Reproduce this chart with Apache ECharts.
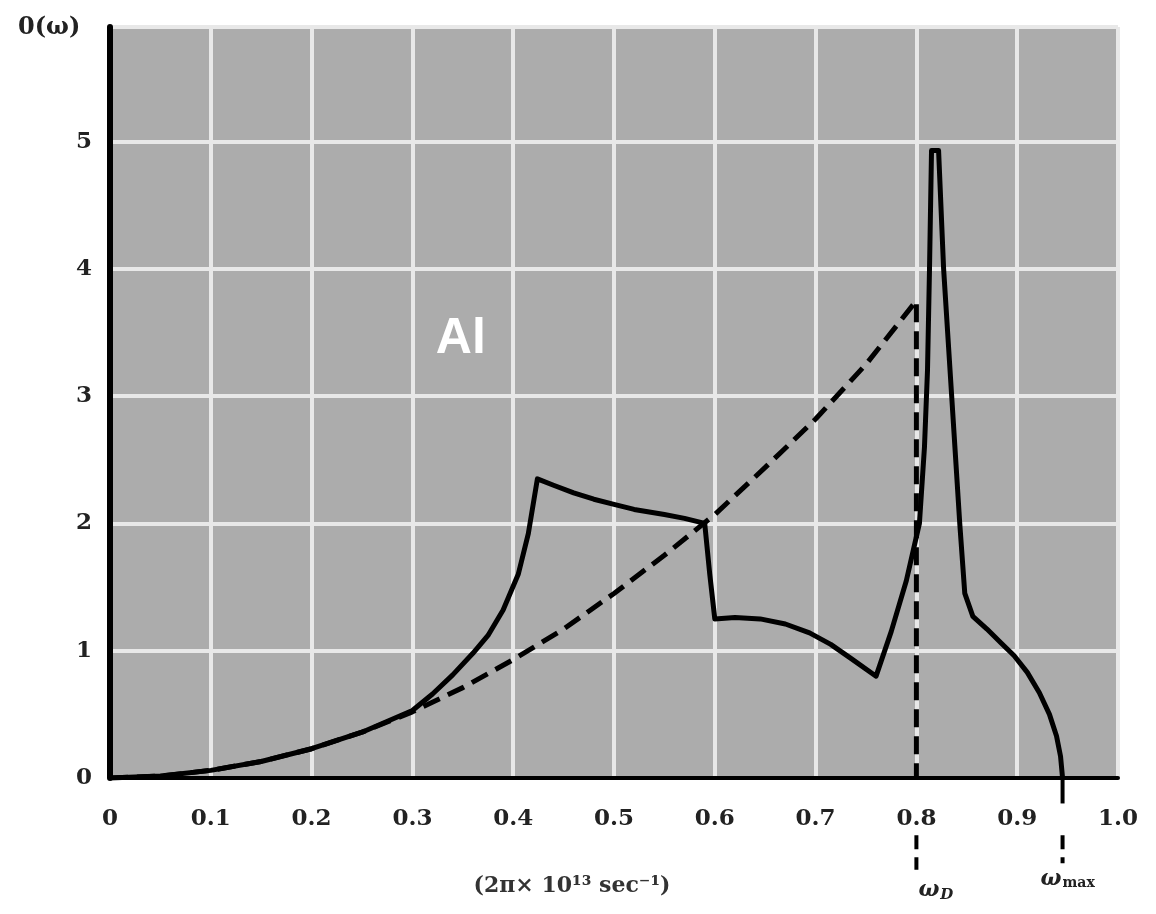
<!DOCTYPE html>
<html>
<head>
<meta charset="utf-8">
<script src="https://cdn.jsdelivr.net/npm/echarts@6/dist/echarts.min.js"></script>
<style>
  html, body { margin: 0; padding: 0; background: #fff; }
  #main { width: 1156px; height: 914px; }
</style>
</head>
<body>
<div id="main"></div>
<script>
// 读图得到的数据 (ω 单位: 2π×10^13 sec^-1)
const xTicks = ['0', '0.1', '0.2', '0.3', '0.4', '0.5', '0.6', '0.7', '0.8', '0.9', '1.0'];
const yTicks = ['0', '1', '2', '3', '4', '5'];

// 实线: Al 的频谱
const solidW = [0, 0.05, 0.1, 0.15, 0.2, 0.25, 0.3, 0.32, 0.34, 0.36, 0.375, 0.39, 0.405, 0.415, 0.424,
  0.44, 0.46, 0.48, 0.5, 0.52, 0.55, 0.57, 0.59, 0.595, 0.6,
  0.62, 0.645, 0.67, 0.694, 0.715, 0.735, 0.76,
  0.775, 0.79, 0.803, 0.808, 0.811, 0.813, 0.815, 0.822, 0.827, 0.835, 0.843, 0.848,
  0.856, 0.87, 0.884, 0.897, 0.91, 0.922, 0.932, 0.939, 0.943, 0.945];
const solidG = [0, 0.015, 0.06, 0.13, 0.23, 0.36, 0.53, 0.66, 0.81, 0.98, 1.12, 1.32, 1.6, 1.92, 2.35,
  2.3, 2.24, 2.19, 2.15, 2.11, 2.07, 2.04, 2.0, 1.6, 1.25,
  1.26, 1.25, 1.21, 1.14, 1.05, 0.94, 0.8,
  1.15, 1.55, 2.0, 2.6, 3.2, 4.0, 4.93, 4.93, 4.0, 3.0, 2.0, 1.45,
  1.27, 1.17, 1.06, 0.96, 0.83, 0.67, 0.5, 0.33, 0.17, 0];

// 虚线: Debye 近似
const dashW = [0, 0.05, 0.1, 0.15, 0.2, 0.25, 0.3, 0.35, 0.4, 0.45, 0.5, 0.55, 0.6, 0.65, 0.7, 0.75, 0.8, 0.8];
const dashG = [0, 0.015, 0.06, 0.13, 0.23, 0.36, 0.52, 0.71, 0.93, 1.17, 1.45, 1.75, 2.07, 2.44, 2.82, 3.25, 3.75, 0];

// 轴下方的 ω_D / ω_max 引线
const omegaD = 0.8;
const omegaMax = 0.945;

const font = 'DejaVu Serif';
const zip = (a, b) => a.map((v, i) => [v, b[i]]);

const chart = echarts.init(document.getElementById('main'));
const dashStyle = { color: '#000', width: 5, type: [18, 9] };

chart.setOption({
  animation: false,
  grid: {
    left: 110, right: 38, top: 27, bottom: 136,
    show: true, backgroundColor: '#acacac', borderWidth: 0
  },
  xAxis: {
    type: 'value', min: 0, max: 1, interval: 0.1,
    axisLine: { show: true, lineStyle: { color: '#000', width: 4 } },
    axisTick: { show: false },
    splitLine: { show: true, lineStyle: { color: '#e8e8e8', width: 4 } },
    axisLabel: {
      margin: 30,
      formatter: (v) => xTicks[Math.round(v * 10)],
      fontFamily: font, fontWeight: 'bold', fontSize: 23, color: '#222'
    }
  },
  yAxis: {
    type: 'value', min: 0, max: 5.9, interval: 1,
    axisLine: { show: true, lineStyle: { color: '#000', width: 6 } },
    axisTick: { show: false },
    splitLine: { show: true, lineStyle: { color: '#e8e8e8', width: 4 } },
    axisLabel: {
      margin: 18,
      formatter: (v) => yTicks[Math.round(v)] || '',
      fontFamily: font, fontWeight: 'bold', fontSize: 23, color: '#222'
    }
  },
  series: [
    {
      name: 'solid', type: 'line', data: zip(solidW, solidG),
      showSymbol: false, lineStyle: { color: '#000', width: 5, join: 'round' }, z: 5
    },
    {
      name: 'debye', type: 'line', data: zip(dashW, dashG),
      showSymbol: false, lineStyle: dashStyle, z: 4
    },
    {
      name: 'wD', type: 'line', clip: false, data: [[omegaD, -0.45], [omegaD, -0.72]],
      showSymbol: false, lineStyle: { color: '#000', width: 4, type: [14, 8] }
    },
    {
      name: 'wMax1', type: 'line', clip: false, data: [[omegaMax, 0], [omegaMax, -0.2]],
      showSymbol: false, lineStyle: { color: '#000', width: 4 }
    },
    {
      name: 'wMax2', type: 'line', clip: false, data: [[omegaMax, -0.45], [omegaMax, -0.67]],
      showSymbol: false, lineStyle: { color: '#000', width: 4, type: [14, 8] }
    }
  ]
});

// 文字标注, 位置由坐标轴换算
const pAl = chart.convertToPixel({ gridIndex: 0 }, [0.348, 3.45]);
const pD = chart.convertToPixel({ gridIndex: 0 }, [omegaD, -0.72]);
const pM = chart.convertToPixel({ gridIndex: 0 }, [omegaMax, -0.67]);

chart.setOption({
  graphic: [
    {
      type: 'text', x: pAl[0], y: pAl[1],
      style: { text: 'Al', fill: '#fff', font: 'bold 50px "Liberation Sans"', align: 'center', verticalAlign: 'middle' }
    },
    {
      type: 'text', x: 18, y: 28,
      style: { text: '0(ω)', fill: '#222', font: 'bold 24px "DejaVu Serif"', verticalAlign: 'middle' }
    },
    {
      type: 'text', x: 572, y: 886,
      style: {
        text: '(2π× 10¹³ sec⁻¹)', fill: '#333',
        font: 'bold 22px "DejaVu Serif"', align: 'center', verticalAlign: 'middle'
      }
    },
    {
      type: 'text', x: pD[0] + 2, y: pD[1] + 8,
      style: {
        text: '{w|ω}{s|D}', align: 'left', verticalAlign: 'top',
        rich: {
          w: { font: 'bold italic 22px "DejaVu Serif"', fill: '#222' },
          s: { font: 'bold italic 15px "DejaVu Serif"', fill: '#222', padding: [10, 0, 0, 1] }
        }
      }
    },
    {
      type: 'text', x: pM[0] - 22, y: pM[1] + 5,
      style: {
        text: '{w|ω}{s|max}', align: 'left', verticalAlign: 'top',
        rich: {
          w: { font: 'bold italic 22px "DejaVu Serif"', fill: '#222' },
          s: { font: 'bold 14px "DejaVu Serif"', fill: '#222', padding: [8, 0, 0, 1] }
        }
      }
    }
  ]
});

window.onresize = function () {
  chart.resize();
};
</script>
</body>
</html>
